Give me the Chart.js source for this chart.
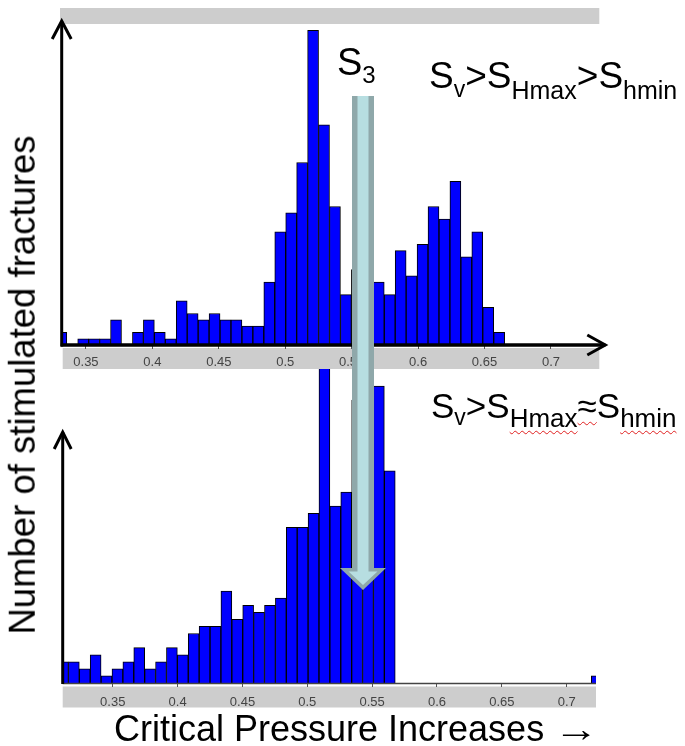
<!DOCTYPE html>
<html>
<head>
<meta charset="utf-8">
<script src="https://cdn.jsdelivr.net/npm/chart.js@4.4.1/dist/chart.umd.min.js"></script>
<style>
  body { margin: 0; background: #fff; }
  #wrap { position: relative; width: 685px; height: 746px; overflow: hidden; font-family: "Liberation Sans", Arial, sans-serif; color: #000; }
  canvas { position: absolute; left: 0; }
  #bottomChart { top: 330px; }
  #topChart { top: 0; }
  .lbl { position: absolute; white-space: nowrap; line-height: 1; }
  .sub { position: relative; }
  .wavy { text-decoration: underline wavy #e02020; text-decoration-thickness: 1px; text-underline-offset: 3px; }
</style>
</head>
<body>
<div id="wrap">
  <canvas id="bottomChart" width="685" height="416"></canvas>
  <canvas id="topChart" width="685" height="746"></canvas>

  <div class="lbl" id="yTitle" style="left:23px; top:385px; font-size:36.5px; transform:translate(-50%,-50%) rotate(-90deg);">Number of stimulated fractures</div>
  <div class="lbl" id="xTitle" style="left:114px; top:711px; font-size:36px;">Critical Pressure Increases <span style="display:inline-block; transform:scaleX(1.25); transform-origin:left center;">→</span></div>

  <div class="lbl" style="left:337px; top:43px; font-size:38px;">S<span class="sub" style="font-size:24px; top:8px;">3</span></div>

  <div class="lbl" style="left:429px; top:57px; font-size:37px;">S<span class="sub" style="font-size:23px; top:9px;">v</span>&gt;S<span class="sub" style="font-size:25px; top:11px;">Hmax</span>&gt;S<span class="sub" style="font-size:25px; top:11px;">hmin</span></div>

  <div class="lbl" style="left:431px; top:388px; font-size:35px;">S<span class="sub" style="font-size:23px; top:7px;">v</span>&gt;S<span class="sub wavy" style="font-size:26px; top:9px;">Hmax</span><span class="wavy">≈</span>S<span class="sub wavy" style="font-size:26px; top:9px;">hmin</span></div>
</div>

<script>
// top panel (Sv > SHmax > Shmin): bin centres and counts
const topBins = [0.33144, 0.33968, 0.34792, 0.35616, 0.36440, 0.37264, 0.38088, 0.38912, 0.39736, 0.40560,
  0.41384, 0.42208, 0.43032, 0.43856, 0.44680, 0.45504, 0.46328, 0.47152, 0.47976, 0.48800,
  0.49624, 0.50448, 0.51272, 0.52096, 0.52920, 0.53744, 0.54568, 0.55392, 0.56216, 0.57040,
  0.57864, 0.58688, 0.59512, 0.60336, 0.61160, 0.61984, 0.62808, 0.63632, 0.64456, 0.65280, 0.66104];
const topCounts = [2, 0, 1, 1, 1, 4, 0, 2, 4, 2,
  1, 7, 5, 4, 5, 4, 4, 3, 3, 10,
  18, 21, 29, 50, 35, 22, 8, 12, 9, 10,
  8, 15, 11, 16, 22, 20, 26, 14, 18, 6, 2];

// bottom panel (Sv > SHmax ≈ Shmin)
const bottomBins = [0.3116, 0.3200, 0.3284, 0.3368, 0.3452, 0.3536, 0.3620, 0.3704, 0.3788, 0.3872,
  0.3956, 0.4040, 0.4124, 0.4208, 0.4292, 0.4376, 0.4460, 0.4544, 0.4628, 0.4712,
  0.4796, 0.4880, 0.4964, 0.5048, 0.5132, 0.5216, 0.5300, 0.5384, 0.5468, 0.5552,
  0.5636, 0.7232];
const bottomCounts = [3, 3, 2, 4, 1, 2, 3, 5, 2, 3,
  5, 4, 7, 8, 8, 13, 9, 11, 10, 11,
  12, 22, 22, 24, 47, 25, 27, 40, 36, 42,
  30, 1];

const tickFont = { family: 'Liberation Sans', size: 13 };
const bandColor = '#cdcdcd';

function fmtTick(v) {
  return String(+v.toFixed(2));
}

function drawChevron(ctx, x0, y0, x1, y1, x2, y2) {
  ctx.beginPath();
  ctx.moveTo(x0, y0);
  ctx.lineTo(x1, y1);
  ctx.lineTo(x2, y2);
  ctx.stroke();
}

// the big S3 arrow that runs over both panels
function drawS3Arrow(ctx) {
  ctx.save();
  ctx.fillStyle = '#8fa8aa';
  ctx.beginPath();
  ctx.moveTo(352, 96); ctx.lineTo(374, 96); ctx.lineTo(374, 568); ctx.lineTo(386, 568);
  ctx.lineTo(363, 590); ctx.lineTo(340, 568); ctx.lineTo(352, 568);
  ctx.closePath();
  ctx.fill();
  ctx.fillStyle = '#b7dee1';
  ctx.beginPath();
  ctx.moveTo(357.5, 96); ctx.lineTo(368.5, 96); ctx.lineTo(368.5, 571.5); ctx.lineTo(377.5, 571.5);
  ctx.lineTo(363, 585); ctx.lineTo(348.5, 571.5); ctx.lineTo(357.5, 571.5);
  ctx.closePath();
  ctx.fill();
  ctx.restore();
}

const topDecor = {
  id: 'topDecor',
  beforeDraw(chart) {
    const ctx = chart.ctx, a = chart.chartArea;
    ctx.save();
    ctx.fillStyle = bandColor;
    ctx.fillRect(a.left - 2.7, 8, a.right - a.left + 2.7, 16);
    ctx.fillRect(a.left, a.bottom + 3, a.right - a.left, 21);
    ctx.restore();
  },
  afterDatasetsDraw(chart) {
    const ctx = chart.ctx, a = chart.chartArea;
    ctx.save();
    ctx.strokeStyle = '#000';
    ctx.lineJoin = 'miter';
    ctx.lineWidth = 3;
    ctx.beginPath();
    ctx.moveTo(a.left - 1, a.bottom + 1.5);
    ctx.lineTo(a.left - 1, a.top - 3);
    ctx.stroke();
    drawChevron(ctx, a.left - 10.5, a.top + 15, a.left - 1, a.top - 3, a.left + 8.5, a.top + 15);
    ctx.lineWidth = 3.5;
    ctx.beginPath();
    ctx.moveTo(a.left - 2, a.bottom);
    ctx.lineTo(a.right + 6, a.bottom);
    ctx.stroke();
    ctx.lineWidth = 3;
    drawChevron(ctx, a.right - 12, a.bottom - 10, a.right + 6, a.bottom, a.right - 12, a.bottom + 10);
    ctx.restore();
  },
  afterDraw(chart) {
    drawS3Arrow(chart.ctx);
  }
};

const bottomDecor = {
  id: 'bottomDecor',
  beforeDraw(chart) {
    const ctx = chart.ctx, a = chart.chartArea;
    ctx.save();
    ctx.fillStyle = bandColor;
    ctx.fillRect(a.left, a.bottom + 3.5, a.right - a.left, 21);
    ctx.restore();
  },
  afterDatasetsDraw(chart) {
    const ctx = chart.ctx, a = chart.chartArea;
    ctx.save();
    ctx.strokeStyle = '#444';
    ctx.lineWidth = 1.5;
    ctx.beginPath();
    ctx.moveTo(a.left, a.bottom + 0.5);
    ctx.lineTo(a.right, a.bottom + 0.5);
    ctx.stroke();
    ctx.strokeStyle = '#000';
    ctx.lineWidth = 3;
    ctx.beginPath();
    ctx.moveTo(a.left, a.bottom + 1);
    ctx.lineTo(a.left, 102);
    ctx.stroke();
    drawChevron(ctx, a.left - 8.5, 119, a.left, 102, a.left + 8.5, 119);
    ctx.restore();
  }
};

function barDataset(bins, counts) {
  return {
    data: bins.map((x, i) => ({ x: x, y: counts[i] })),
    backgroundColor: '#0000ff',
    borderColor: '#000',
    borderWidth: 1,
    barPercentage: 1,
    categoryPercentage: 1
  };
}

function xAxis(min, max, height, pad) {
  return {
    type: 'linear',
    min: min,
    max: max,
    offset: false,
    grid: { drawOnChartArea: false, drawTicks: true, tickLength: 4, color: '#555', offset: false },
    border: { display: false },
    ticks: {
      stepSize: 0.05,
      includeBounds: false,
      padding: pad,
      color: '#444',
      font: tickFont,
      maxRotation: 0,
      autoSkip: false,
      callback: fmtTick
    },
    afterFit: (s) => { s.height = height; }
  };
}

new Chart(document.getElementById('bottomChart'), {
  type: 'bar',
  data: { datasets: [barDataset(bottomBins, bottomCounts)] },
  options: {
    responsive: false,
    animation: false,
    layout: { padding: { left: 62.7, right: 89, top: 10, bottom: 0 } },
    plugins: { legend: { display: false }, tooltip: { enabled: false } },
    scales: {
      x: xAxis(0.3114, 0.7226, 63, 8),
      y: { display: false, min: 0, max: 48.5 }
    }
  },
  plugins: [bottomDecor]
});

new Chart(document.getElementById('topChart'), {
  type: 'bar',
  data: { datasets: [barDataset(topBins, topCounts)] },
  options: {
    responsive: false,
    animation: false,
    layout: { padding: { left: 62.7, right: 85.7, top: 24, bottom: 366 } },
    plugins: { legend: { display: false }, tooltip: { enabled: false } },
    scales: {
      x: xAxis(0.3325, 0.7364, 35, 6),
      y: { display: false, min: 0, max: 51 }
    }
  },
  plugins: [topDecor]
});
</script>
</body>
</html>
